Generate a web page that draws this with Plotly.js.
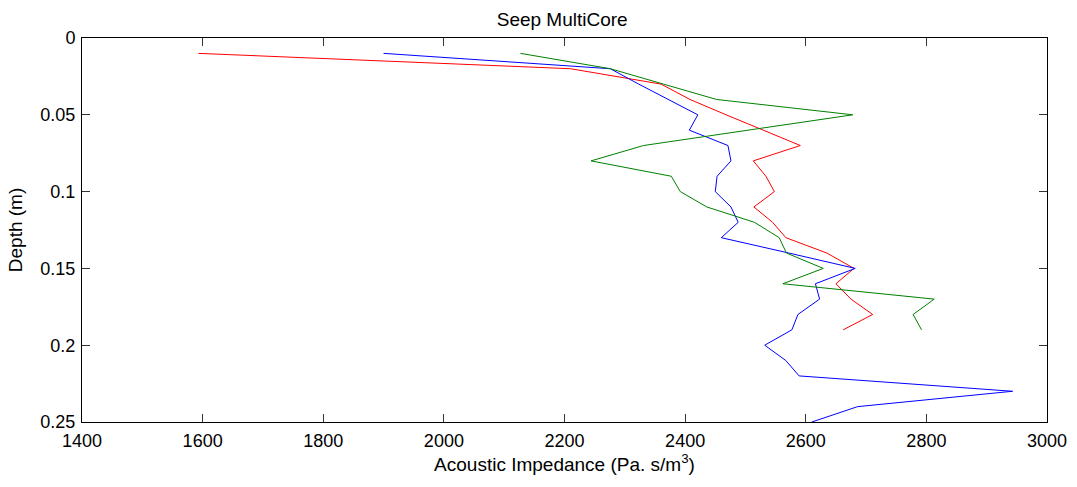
<!DOCTYPE html>
<html>
<head>
<meta charset="utf-8">
<script src="https://cdn.plot.ly/plotly-3.0.1.min.js"></script>
<style>html,body{margin:0;padding:0;background:#fff;}#chart{width:1077px;height:487px;}</style>
</head>
<body>
<div id="chart"></div>
<script>
// Depths (m)
const depthRed   = [0.01,0.02,0.03,0.04,0.05,0.06,0.07,0.08,0.09,0.10,0.11,0.12,0.13,0.14,0.15,0.16,0.17,0.18,0.19];
const impRed     = [1593,2210,2360,2408,2468,2530,2591,2513,2534,2548,2514,2545,2567,2635,2680,2650,2675,2711,2662];

const depthBlue  = [0.01,0.02,0.03,0.04,0.05,0.06,0.07,0.08,0.09,0.10,0.11,0.12,0.13,0.14,0.15,0.16,0.17,0.18,0.19,0.20,0.21,0.22,0.23,0.24,0.25];
const impBlue    = [1900,2276,2323,2371,2421,2407,2471,2476,2453,2450,2476,2488,2460,2572,2682,2616,2623,2587,2577,2532,2567,2589,2943,2686,2610];

const depthGreen = [0.01,0.02,0.03,0.04,0.05,0.06,0.07,0.08,0.09,0.10,0.11,0.12,0.13,0.14,0.15,0.16,0.17,0.18,0.19];
const impGreen   = [2127,2276,2364,2452,2678,2506,2331,2244,2377,2392,2436,2515,2556,2568,2629,2562,2813,2778,2792];

const xTicks = [1400,1600,1800,2000,2200,2400,2600,2800,3000];
const yTicks = [0,0.05,0.1,0.15,0.2,0.25];
const yTickText = ['0','0.05','0.1','0.15','0.2','0.25'];

const fam = 'Liberation Sans, Arial, sans-serif';
const tickFont = {family: fam, size: 18, color: '#000'};
const titleFont = {family: fam, size: 19, color: '#000'};

const traces = [
  {x: impRed,   y: depthRed,   mode: 'lines', line: {color: '#ff0000', width: 1}, name: 'red'},
  {x: impBlue,  y: depthBlue,  mode: 'lines', line: {color: '#0000ff', width: 1}, name: 'blue'},
  {x: impGreen, y: depthGreen, mode: 'lines', line: {color: '#008000', width: 1}, name: 'green'}
];

const layout = {
  width: 1077, height: 487,
  margin: {l: 82, r: 30, t: 38, b: 65, pad: 0},
  paper_bgcolor: '#fff', plot_bgcolor: '#fff',
  showlegend: false,
  font: tickFont,
  title: {text: 'Seep MultiCore', font: titleFont, x: 0.522, xanchor: 'center', y: 0.961, yanchor: 'middle'},
  xaxis: {
    range: [1400, 3000], tickvals: xTicks, ticktext: xTicks.map(String),
    ticks: 'inside', ticklen: 8, tickcolor: '#333', tickwidth: 1,
    showline: true, linecolor: '#000', linewidth: 1, mirror: 'ticks',
    showgrid: false, zeroline: false,
    tickfont: tickFont, ticklabelstandoff: 2,
    title: {text: 'Acoustic Impedance (Pa. s/m<sup>3</sup>)', font: titleFont, standoff: 7}
  },
  yaxis: {
    range: [0.25, 0], tickvals: yTicks, ticktext: yTickText,
    ticks: 'inside', ticklen: 8, tickcolor: '#333', tickwidth: 1,
    showline: true, linecolor: '#000', linewidth: 1, mirror: 'ticks',
    showgrid: false, zeroline: false,
    tickfont: tickFont, ticklabelstandoff: 2,
    title: {text: 'Depth (m)', font: titleFont, standoff: 12}
  }
};

Plotly.newPlot('chart', traces, layout, {displayModeBar: false, staticPlot: true});
</script>
</body>
</html>
